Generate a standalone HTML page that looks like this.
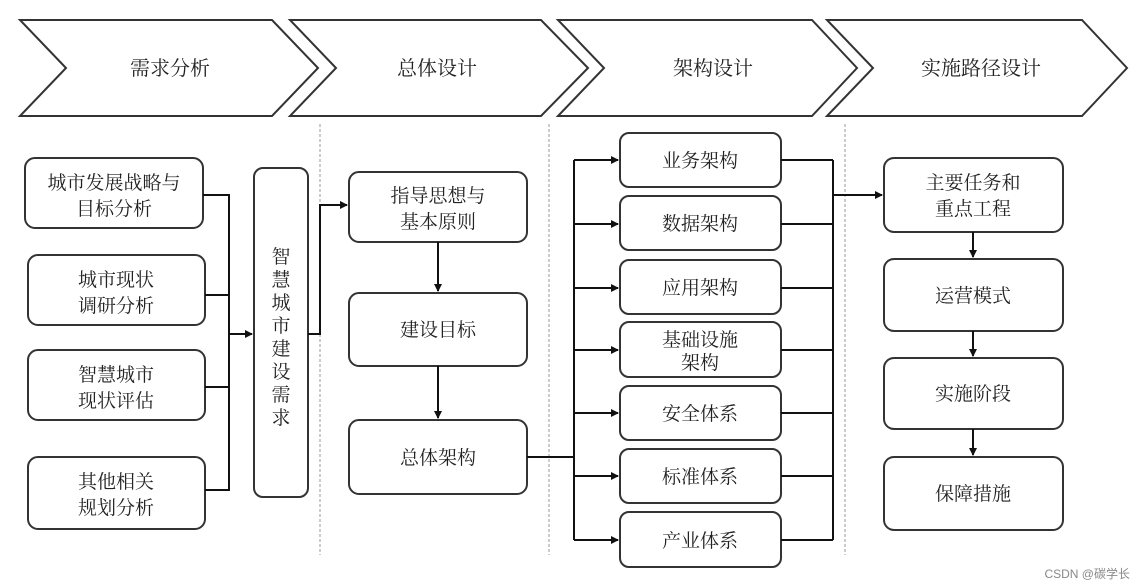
<!DOCTYPE html>
<html><head><meta charset="utf-8"><style>
html,body{margin:0;padding:0;background:#fff}
svg{display:block}
text{font-family:"Liberation Serif","Noto Serif CJK SC","Noto Sans CJK SC",serif;fill:#222}
</style></head><body>
<svg width="1146" height="588" viewBox="0 0 1146 588" xmlns="http://www.w3.org/2000/svg">
<defs><marker id="a" markerWidth="8" markerHeight="8" refX="7" refY="4" orient="auto" markerUnits="userSpaceOnUse"><path d="M0,0 L8,4 L0,8 z" fill="#111"/></marker></defs>
<g fill="#fff" stroke="#333" stroke-width="2">
<polygon points="20,20 272,20 318,68 272,116 20,116 66,68"/>
<polygon points="290,20 541,20 588,68 541,116 290,116 336,68"/>
<polygon points="558,20 812,20 857,68 812,116 558,116 604,68"/>
<polygon points="827,20 1082,20 1127,68 1082,116 827,116 873,68"/>
</g>
<g font-size="20" text-anchor="middle">
<text x="170" y="75">需求分析</text><text x="437" y="75">总体设计</text>
<text x="713" y="75">架构设计</text><text x="981" y="75">实施路径设计</text>
</g>
<g stroke="#999" stroke-dasharray="3,2" stroke-width="1">
<line x1="320" y1="124" x2="320" y2="555"/><line x1="549" y1="124" x2="549" y2="555"/><line x1="845" y1="124" x2="845" y2="555"/>
</g>
<g fill="#fff" stroke="#333" stroke-width="2">
<rect x="25" y="158" width="178" height="70" rx="10"/>
<rect x="28" y="255" width="177" height="70" rx="10"/>
<rect x="28" y="350" width="177" height="70" rx="10"/>
<rect x="28" y="457" width="177" height="72" rx="10"/>
<rect x="254" y="168" width="54" height="329" rx="9"/>
<rect x="349" y="172" width="178" height="70" rx="10"/>
<rect x="349" y="293" width="178" height="73" rx="10"/>
<rect x="349" y="420" width="178" height="74" rx="10"/>
<rect x="620" y="133" width="161" height="54" rx="9"/>
<rect x="620" y="196" width="161" height="54" rx="9"/>
<rect x="620" y="260" width="161" height="54" rx="9"/>
<rect x="620" y="322" width="161" height="55" rx="9"/>
<rect x="620" y="386" width="161" height="54" rx="9"/>
<rect x="620" y="449" width="161" height="54" rx="9"/>
<rect x="620" y="512" width="161" height="55" rx="9"/>
<rect x="884" y="158" width="179" height="74" rx="10"/>
<rect x="884" y="259" width="179" height="72" rx="10"/>
<rect x="884" y="358" width="179" height="71" rx="10"/>
<rect x="884" y="457" width="179" height="73" rx="10"/>
</g>
<g stroke="#111" stroke-width="2" fill="none">
<polyline points="203,195 229,195 229,490 205,490"/>
<line x1="205" y1="295" x2="229" y2="295"/><line x1="205" y1="387" x2="229" y2="387"/>
<line x1="229" y1="334" x2="252" y2="334" marker-end="url(#a)"/>
<polyline points="308,334 320,334 320,205 347,205" marker-end="url(#a)"/>
<line x1="438" y1="242" x2="438" y2="291" marker-end="url(#a)"/>
<line x1="438" y1="366" x2="438" y2="418" marker-end="url(#a)"/>
<line x1="527" y1="457" x2="574" y2="457"/>
<line x1="574" y1="160" x2="574" y2="540"/>
<line x1="574" y1="160" x2="618" y2="160" marker-end="url(#a)"/>
<line x1="574" y1="224" x2="618" y2="224" marker-end="url(#a)"/>
<line x1="574" y1="288" x2="618" y2="288" marker-end="url(#a)"/>
<line x1="574" y1="350" x2="618" y2="350" marker-end="url(#a)"/>
<line x1="574" y1="413" x2="618" y2="413" marker-end="url(#a)"/>
<line x1="574" y1="476" x2="618" y2="476" marker-end="url(#a)"/>
<line x1="574" y1="540" x2="618" y2="540" marker-end="url(#a)"/>
<line x1="781" y1="160" x2="833" y2="160"/><line x1="781" y1="224" x2="833" y2="224"/>
<line x1="781" y1="288" x2="833" y2="288"/><line x1="781" y1="350" x2="833" y2="350"/>
<line x1="781" y1="413" x2="833" y2="413"/><line x1="781" y1="476" x2="833" y2="476"/>
<line x1="781" y1="540" x2="833" y2="540"/>
<line x1="833" y1="160" x2="833" y2="540"/>
<line x1="833" y1="195" x2="882" y2="195" marker-end="url(#a)"/>
<line x1="973" y1="232" x2="973" y2="257" marker-end="url(#a)"/>
<line x1="973" y1="331" x2="973" y2="356" marker-end="url(#a)"/>
<line x1="973" y1="429" x2="973" y2="455" marker-end="url(#a)"/>
</g>
<g font-size="19" text-anchor="middle">
<text x="114" y="189">城市发展战略与</text><text x="114" y="215">目标分析</text>
<text x="116" y="286">城市现状</text><text x="116" y="312">调研分析</text>
<text x="116" y="381">智慧城市</text><text x="116" y="407">现状评估</text>
<text x="116" y="488">其他相关</text><text x="116" y="514">规划分析</text>
<text x="281" y="263">智</text><text x="281" y="286">慧</text><text x="281" y="309">城</text><text x="281" y="332">市</text><text x="281" y="355">建</text><text x="281" y="378">设</text><text x="281" y="401">需</text><text x="281" y="424">求</text>
<text x="438" y="202">指导思想与</text><text x="438" y="228">基本原则</text>
<text x="438" y="336">建设目标</text>
<text x="438" y="464">总体架构</text>
<text x="700" y="167">业务架构</text><text x="700" y="230">数据架构</text>
<text x="700" y="294">应用架构</text>
<text x="700" y="346">基础设施</text><text x="700" y="369">架构</text>
<text x="700" y="420">安全体系</text><text x="700" y="483">标准体系</text>
<text x="700" y="547">产业体系</text>
<text x="973" y="189">主要任务和</text><text x="973" y="215">重点工程</text>
<text x="973" y="302">运营模式</text><text x="973" y="400">实施阶段</text>
<text x="973" y="500">保障措施</text>
</g>
<text x="1130" y="578" font-size="12" text-anchor="end" style="font-family:'Liberation Sans','Noto Sans CJK SC',sans-serif;fill:#888">CSDN @碳学长</text>
</svg>
</body></html>
